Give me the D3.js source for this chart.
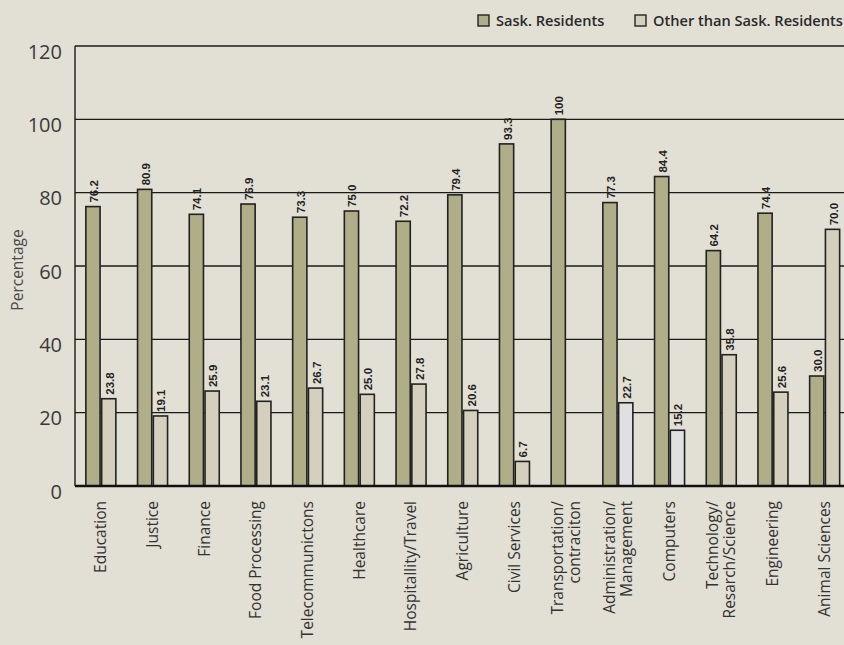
<!DOCTYPE html>
<html>
<head>
<meta charset="utf-8">
<script src="https://cdn.jsdelivr.net/npm/d3@7"></script>
<style>
  html, body { margin: 0; padding: 0; background: #e2dfd4; }
  svg { display: block; }
</style>
</head>
<body>
<div id="chart"></div>
<script>
// ---- data ----
const categories = [
  "Education", "Justice", "Finance", "Food Processing", "Telecommunictons",
  "Healthcare", "Hospitallity/Travel", "Agriculture", "Civil Services",
  "Transportation/\ncontraciton", "Administration/\nManagement", "Computers",
  "Technology/\nResarch/Science", "Engineering", "Animal Sciences"
];
const seriesNames = ["Sask. Residents", "Other than Sask. Residents"];
const saskResidents = [76.2, 80.9, 74.1, 76.9, 73.3, 75.0, 72.2, 79.4, 93.3, 100, 77.3, 84.4, 64.2, 74.4, 30.0];
const otherResidents = [23.8, 19.1, 25.9, 23.1, 26.7, 25.0, 27.8, 20.6, 6.7, 0, 22.7, 15.2, 35.8, 25.6, 70.0];
const lightOtherCategories = ["Administration/\nManagement", "Computers"];
const yTicks = [0, 20, 40, 60, 80, 100, 120];

(function () {
// ---- layout ----
const W = 844, H = 645;
const mLeft = 75, mTop = 46, mBottom = 486;
const step = 51.7;
const mRight = mLeft + step * categories.length;
const textFont = "'Open Sans', Lato, sans-serif";

const colors = { sask: "#b0ad89", other: "#d5d0bd", otherLight: "#e0e0e0", stroke: "#222" };

const svg = d3.select("#chart").append("svg")
  .attr("width", W).attr("height", H)
  .style("background", "#e2dfd4");

const x = d3.scaleBand().domain(categories).range([mLeft, mRight]).padding(0);
const x1 = d3.scaleBand().domain(["sask", "other"]).range([0, x.bandwidth()])
  .paddingInner(0.1).paddingOuter(0.687);
const y = d3.scaleLinear().domain([0, 120]).range([mBottom, mTop]);

// gridlines
svg.append("g").selectAll("line").data(yTicks.filter(t => t > 0)).join("line")
  .attr("x1", mLeft).attr("x2", mRight)
  .attr("y1", d => y(d)).attr("y2", d => y(d))
  .attr("stroke", "#1a1a1a").attr("stroke-width", 1.4);

// left axis line
svg.append("line").attr("x1", mLeft).attr("x2", mLeft)
  .attr("y1", y(120)).attr("y2", y(0))
  .attr("stroke", "#1a1a1a").attr("stroke-width", 1.4);

// y tick labels
const yAxis = d3.axisLeft(y).tickValues(yTicks).tickSize(0).tickPadding(13);
const yg = svg.append("g").attr("transform", `translate(${mLeft},0)`).call(yAxis);
yg.select(".domain").remove();
yg.selectAll("text")
  .attr("dy", "0.6em")
  .style("font-family", textFont)
  .style("font-weight", 400)
  .style("font-size", "20px")
  .attr("fill", "#3a3a3a");

// y title
svg.append("text")
  .attr("transform", `translate(23,270) rotate(-90)`)
  .attr("text-anchor", "middle")
  .style("font-family", textFont)
  .style("font-weight", 400)
  .style("font-size", "15.5px")
  .attr("fill", "#4a4a4a")
  .text("Percentage");

// bars
const rows = categories.map((c, i) => ({ c, sask: saskResidents[i], other: otherResidents[i] }));
const groups = svg.append("g").selectAll("g").data(rows).join("g")
  .attr("transform", d => `translate(${x(d.c)},0)`);

const barData = d => [
  { key: "sask", v: d.sask, fill: colors.sask },
  { key: "other", v: d.other, fill: lightOtherCategories.includes(d.c) ? colors.otherLight : colors.other }
];

groups.selectAll("rect").data(barData).join("rect")
  .attr("x", b => x1(b.key))
  .attr("width", x1.bandwidth())
  .attr("y", b => y(b.v))
  .attr("height", b => y(0) - y(b.v))
  .attr("fill", b => b.fill)
  .attr("stroke", colors.stroke)
  .attr("stroke-width", 1.6);

// value labels
const fmt = v => v === 100 ? "100" : d3.format(".1f")(v);
groups.selectAll("text.val").data(d => barData(d).filter(b => b.v > 0)).join("text")
  .attr("class", "val")
  .attr("transform", b => `translate(${x1(b.key) + x1.bandwidth() / 2 + 1},${y(b.v) - 4}) rotate(-90)`)
  .attr("dy", "0.35em")
  .attr("text-anchor", "start")
  .style("font-family", "'Liberation Sans', Arial, sans-serif")
  .style("font-weight", "bold")
  .style("font-size", "11.5px")
  .attr("fill", "#222")
  .text(b => fmt(b.v));

// baseline
svg.append("line").attr("x1", mLeft).attr("x2", mRight)
  .attr("y1", y(0)).attr("y2", y(0))
  .attr("stroke", "#111").attr("stroke-width", 2.6);

// x labels
const xl = svg.append("g").selectAll("text").data(categories).join("text")
  .attr("transform", c => `translate(${x(c) + x.bandwidth() / 2},501) rotate(-90)`)
  .attr("text-anchor", "end")
  .style("font-family", textFont)
  .style("font-weight", 400)
  .style("font-size", "15.5px")
  .attr("fill", "#333");
xl.each(function(c) {
  const lines = c.split("\n");
  const lh = 17;
  const start = -(lines.length - 1) * lh / 2;
  d3.select(this).selectAll("tspan").data(lines).join("tspan")
    .attr("x", 0)
    .attr("y", (l, i) => start + i * lh)
    .attr("dy", "0.35em")
    .text(l => l);
});

// legend
const legend = svg.append("g");
const legendItems = [
  { name: seriesNames[0], fill: colors.sask, x: 478 },
  { name: seriesNames[1], fill: colors.other, x: 635 }
];
const li = legend.selectAll("g").data(legendItems).join("g")
  .attr("transform", d => `translate(${d.x},15)`);
li.append("rect").attr("width", 11).attr("height", 11)
  .attr("fill", d => d.fill).attr("stroke", "#222").attr("stroke-width", 1.4);
li.append("text").attr("x", 18).attr("y", 11)
  .style("font-family", textFont)
  .style("font-weight", 600)
  .style("font-size", "14.6px")
  .attr("fill", "#2a2a2a")
  .text(d => d.name);
})();
</script>
</body>
</html>
